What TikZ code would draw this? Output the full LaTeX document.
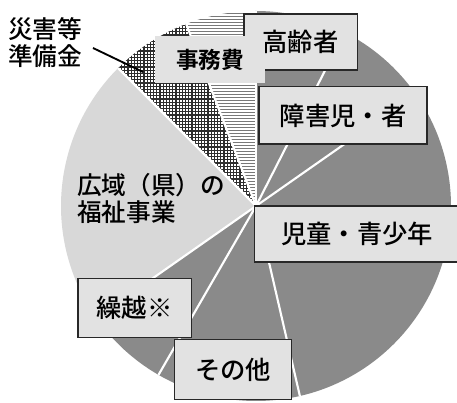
\documentclass[tikz,border=0pt]{standalone}
\usepackage{fontspec}
\newfontfamily\jp{Noto Sans CJK JP Medium}[BoldFont=Noto Sans CJK JP Bold]
\definecolor{darkg}{RGB}{138,138,138}
\definecolor{lightg}{RGB}{216,216,216}
\definecolor{boxg}{RGB}{226,226,226}
\definecolor{bordg}{RGB}{40,40,40}
\definecolor{stripeg}{RGB}{120,120,120}
\definecolor{hatchg}{RGB}{45,45,45}
\newcommand\pieslice[3]{(C) -- ++(#1:\R) arc[start angle=#1,end angle=#2,radius=\R] -- cycle}
\tikzset{
  sepline/.style={white,line width=1.6pt},
  labelbox/.style={draw=bordg,line width=1pt,fill=boxg,inner sep=0pt,
    font=\jp\fontsize{19}{21}\selectfont,text=black},
  plaintext/.style={inner sep=0pt,align=left,text=black,
    font=\jp\fontsize{18.5}{20.3}\selectfont},
  leader/.style={black,line width=1.4pt}
}
\begin{document}
\begin{tikzpicture}[x=0.75pt,y=0.75pt]
\useasboundingbox (0,0) rectangle (457,403);
\fill[white] (0,0) rectangle (457,403);
\coordinate (C) at (256,197);
\def\R{195}
% dark slices
\fill[darkg] \pieslice{63}{90}{};
\fill[darkg] \pieslice{35}{63}{};
\fill[darkg] \pieslice{-77}{35}{};
\fill[darkg] \pieslice{240}{283}{};
\fill[darkg] \pieslice{215}{240}{};
% light slice
\fill[lightg] \pieslice{135}{215}{};
% crosshatch slice
\begin{scope}
  \clip \pieslice{111}{135}{};
  \fill[white] (0,0) rectangle (457,403);
  \draw[hatchg,line width=0.85pt,step=3.2] (0,0) grid (457,403);
\end{scope}
% horizontal stripes slice
\begin{scope}
  \clip \pieslice{90}{111}{};
  \fill[white] (0,0) rectangle (457,403);
  \foreach \yy in {0,3,...,403} \draw[stripeg,line width=0.6pt] (0,\yy) -- (457,\yy);
\end{scope}
% separators
\foreach \a in {90,63,35,-77,240,215,135,111}
  \draw[sepline] (C) -- ++(\a:\R);
% labels
\node[labelbox,minimum width=85,minimum height=42] (koreisha) at (300.5,361) {高齢者};
\node[labelbox,minimum width=126,minimum height=43] (shogai) at (343,287.5) {障害児・者};
\node[labelbox,minimum width=154,minimum height=42] (jido) at (357,169) {児童・青少年};
\node[labelbox,minimum width=88,minimum height=45] (sonota) at (233,33.5) {その他};
\node[labelbox,minimum width=85,minimum height=44] (kurikoshi) at (134.5,95) {繰越※};
\node[fill=boxg,inner sep=0pt,minimum width=82,minimum height=35,
  font=\jp\bfseries\fontsize{17}{20}\selectfont] (jimuhi) at (210,343.5) {事務費};
\node[plaintext,anchor=west] (koiki) at (77,204.5) {広域（県）の\\福祉事業};
\node[plaintext,anchor=west] (saigai) at (8,360.5) {災害等\\準備金};
\coordinate (leadstart) at (93,355);
\coordinate (leadend) at (143,331);
\draw[leader] (leadstart) -- (leadend);
\end{tikzpicture}
\end{document}
